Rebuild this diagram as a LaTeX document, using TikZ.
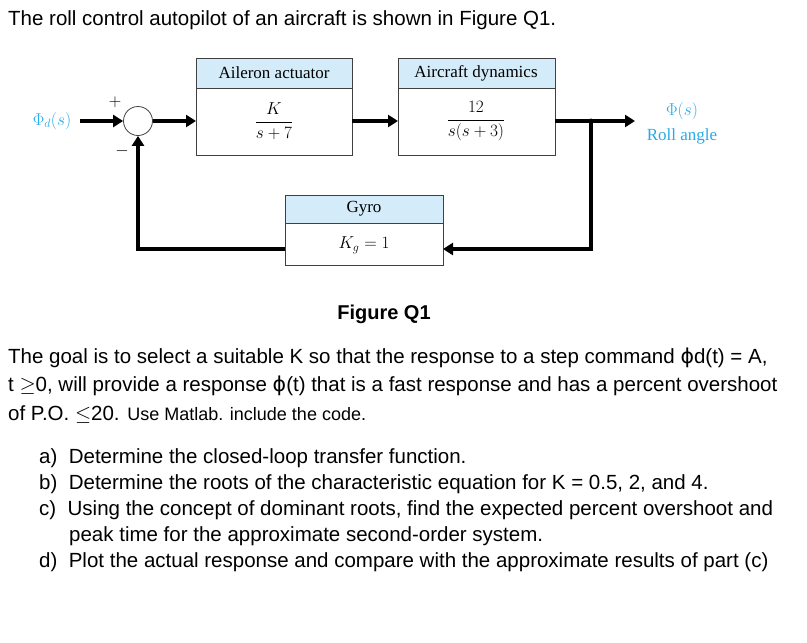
\documentclass[tikz,border=0pt]{standalone}
\usepackage{fontspec}
\setmainfont{Liberation Sans}
\newfontfamily\ser{Liberation Serif}
\newfontfamily\djv{DejaVu Sans}
\usetikzlibrary{arrows.meta}
\definecolor{hdr}{RGB}{212,236,250}
\definecolor{cyanlbl}{RGB}{40,170,230}
\begin{document}
\begin{tikzpicture}[x=1pt,y=-1pt,
  box/.style={draw=black!75,line width=0.8pt},
  hd/.style={draw=black!75,line width=0.8pt,fill=hdr},
  sig/.style={line width=4pt,-{Triangle[length=10pt,width=12pt]}},
  txt/.style={anchor=west,inner sep=0pt,font=\fontsize{20.5}{23}\selectfont},
  dtxt/.style={inner sep=0pt,font=\ser\fontsize{17}{19}\selectfont}]
\useasboundingbox (0,0) rectangle (807,643);
\node[txt] (t0) at (8,20) {The roll control autopilot of an aircraft is shown in Figure Q1.};
% blocks
\draw[hd] (196,58) rectangle (352,88);
\draw[box] (196,88) rectangle (352,155);
\node[dtxt] (ha) at (274,73) {Aileron actuator};
\node[dtxt] (ga) at (274,121) {$\displaystyle\frac{K}{s+7}$};
\draw[hd] (398,58) rectangle (555,88);
\draw[box] (398,88) rectangle (555,155);
\node[dtxt] (hb) at (476,73) {Aircraft dynamics};
\node[dtxt] (gb) at (476,121) {$\displaystyle\frac{12}{s(s+3)}$};
\draw[hd] (285,195) rectangle (443,223);
\draw[box] (285,223) rectangle (443,265);
\node[dtxt] (hg) at (364,209) {Gyro};
\node[dtxt] (gg) at (364,245) {$K_g=1$};
\coordinate (A) at (352,121);
\coordinate (Bi) at (398,121);
\coordinate (Bo) at (555,121);
\coordinate (Ai) at (196,121);
\coordinate (Gi) at (443,249);
\coordinate (Go) at (285,249);
\node[circle,draw=black!75,line width=0.8pt,minimum size=29pt,inner sep=0pt] (sum) at (138,121) {};
\node[dtxt,text=cyanlbl] (in) at (52,121) {$\Phi_d(s)$};
\node[dtxt,text=cyanlbl,anchor=center] (out1) at (682,111) {$\Phi(s)$};
\node[dtxt,text=cyanlbl] (out2) at (682,136) {Roll angle};
\node[dtxt] (p) at (115,102) {$+$};
\node[dtxt] (m) at (122,151) {$-$};
\coordinate (J) at (591,121);
\coordinate (O) at (635,121);
\coordinate (In) at (80,121);
\draw[sig] (In) -- (sum.west);
\draw[sig] (sum.east) -- (Ai);
\draw[sig] (A) -- (Bi);
\draw[sig] (Bo) -- (O);
\fill (J) circle (2.5pt);
\draw[sig] (J) |- (Gi);
\draw[sig] (Go) -| (sum.south);
% text
\node[inner sep=0pt,font=\bfseries\fontsize{20}{23}\selectfont] (fq) at (384,314) {Figure Q1};
\node[txt] (l1) at (8,358) {The goal is to select a suitable K so that the response to a step command {\djv ϕ}d(t) = A,};
\node[txt] (l2) at (8,386) {t $\geq$0, will provide a response {\djv ϕ}(t) that is a fast response and has a percent overshoot};
\node[txt] (l3) at (8,414) {of P.O. $\leq$20. {\fontsize{18}{20}\selectfont Use Matlab. include the code.}};
\node[txt] (a) at (39,458) {a)\ \ Determine the closed-loop transfer function.};
\node[txt] (b) at (39,484) {b)\ \ Determine the roots of the characteristic equation for K = 0.5, 2, and 4.};
\node[txt] (c) at (39,510) {c)\ \ Using the concept of dominant roots, find the expected percent overshoot and};
\node[txt] (c2) at (69,536) {peak time for the approximate second-order system.};
\node[txt] (d) at (39,562) {d)\ \ Plot the actual response and compare with the approximate results of part (c)};
\end{tikzpicture}
\end{document}
